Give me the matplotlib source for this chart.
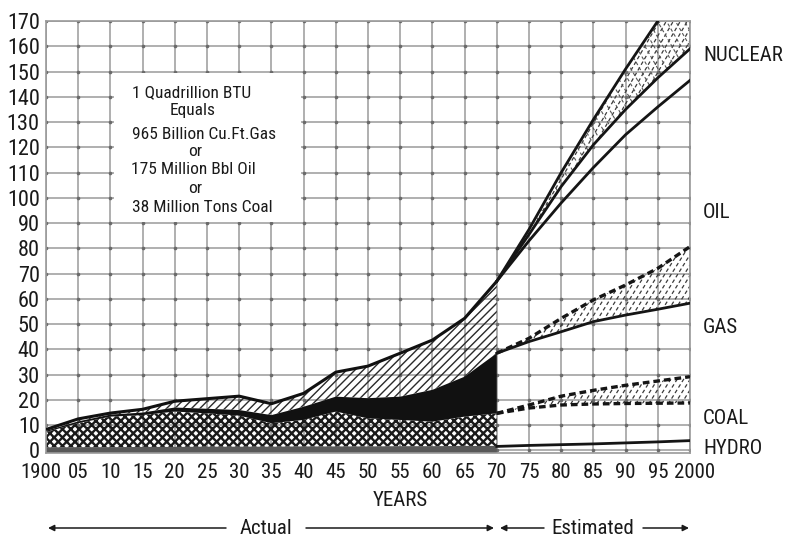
import numpy as np
import matplotlib
matplotlib.use('Agg')
import matplotlib.pyplot as plt
from matplotlib import font_manager as fm
from matplotlib.collections import LineCollection
from matplotlib.patches import Rectangle
from matplotlib.transforms import ScaledTranslation

# ---------------- data (quadrillion BTU, cumulative tops) ----------------
years_act = [1900, 1905, 1910, 1915, 1920, 1925, 1930, 1935, 1940, 1945, 1950, 1955, 1960, 1965, 1970]
hydro_act = [1.2, 1.3, 1.3, 1.4, 1.4, 1.5, 1.5, 1.5, 1.6, 1.6, 1.6, 1.7, 1.7, 1.8, 1.8]
coal_act = [7.3, 10.8, 13.4, 14.0, 15.4, 14.7, 13.8, 10.8, 12.1, 15.4, 12.7, 12.1, 11.4, 13.4, 14.7]
gas_act = [7.8, 11.5, 14.2, 15.0, 17.0, 16.5, 16.0, 14.0, 17.3, 21.3, 20.7, 21.3, 24.0, 29.2, 38.5]
oil_act = [8.3, 12.5, 14.8, 16.3, 19.5, 20.5, 21.5, 18.5, 22.6, 31.0, 33.4, 38.5, 43.7, 52.3, 67.0]

years_est = [1970, 1975, 1980, 1985, 1990, 1995, 2000]
hydro_est = [1.6, 2.0, 2.3, 2.6, 3.0, 3.4, 3.9]
coal_est_low = [14.7, 16.8, 18.0, 18.4, 18.6, 18.7, 18.8]
coal_est_high = [14.7, 18.0, 21.5, 23.8, 25.8, 27.5, 29.2]
gas_est_low = [38.5, 43.1, 47.0, 51.0, 53.6, 55.9, 58.3]
gas_est_high = [38.5, 44.4, 52.3, 59.6, 65.5, 72.1, 80.7]
oil_est_low = [67.0, 83.0, 98.0, 112.0, 125.0, 136.0, 146.5]
oil_est_mid = [67.0, 85.5, 104.5, 121.0, 135.0, 147.5, 159.0]
oil_est_high = [67.0, 87.5, 110.0, 131.0, 151.0, 170.0, 189.0]

x_ticks = list(range(1900, 2001, 5))
x_tick_labels = ['1900', '05', '10', '15', '20', '25', '30', '35', '40', '45',
                 '50', '55', '60', '65', '70', '75', '80', '85', '90', '95', '2000']
y_ticks = list(range(0, 171, 10))

right_labels = ['NUCLEAR', 'OIL', 'GAS', 'COAL', 'HYDRO']
right_label_y = [156.5, 94.0, 48.5, 12.6, 0.8]

note_lines = ['1 Quadrillion BTU', 'Equals', '965 Billion Cu.Ft.Gas', 'or',
              '175 Million Bbl Oil', 'or', '38 Million Tons Coal']

# ---------------- fonts ----------------
def pick(fams):
    for f in fams:
        try:
            fm.findfont(fm.FontProperties(family=f), fallback_to_default=False)
            return f
        except Exception:
            pass
    return 'DejaVu Sans'

FONT = pick(['Liberation Sans Narrow', 'DejaVu Sans Condensed', 'Roboto Condensed', 'Liberation Sans', 'DejaVu Sans'])
plt.rcParams['font.family'] = [FONT, 'DejaVu Sans']
plt.rcParams['hatch.linewidth'] = 1.0

FW, FH = 787, 539
fig = plt.figure(figsize=(FW / 100, FH / 100), dpi=100)
L, R, T, B = 46, 690, 21, 453
ax = fig.add_axes([L / FW, 1 - B / FH, (R - L) / FW, (B - T) / FH])
ax.set_xlim(1900, 2000)
ax.set_ylim(-1, 170)
ppx = (R - L) / 100.0
ppy = (B - T) / 171.0

GRID = '#9a9a9a'
for xt in x_ticks:
    ax.axvline(xt, color=GRID, lw=1.1, zorder=0)
for yt in y_ticks:
    ax.axhline(yt, color=GRID, lw=1.1, zorder=0)
gx, gy = np.meshgrid(x_ticks, y_ticks)
ax.plot(gx.ravel(), gy.ravel(), 'o', ms=2.6, color='#6a6a6a', mec='none', zorder=0.5)
for s in ax.spines.values():
    s.set_color(GRID)
    s.set_linewidth(1.2)

# white box behind the note
ax.add_patch(Rectangle((1910.6, 90.6), 29.0, 58.8, facecolor='white', edgecolor='none', zorder=1.5))

# ---------------- actual stack ----------------
ax.fill_between(years_act, -1, hydro_act, facecolor='#585858', edgecolor='none', lw=0, zorder=2)
with plt.rc_context({'hatch.linewidth': 1.7}):
    coal_fill = ax.fill_between(years_act, hydro_act, coal_act, facecolor='none', edgecolor='#1a1a1a',
                                hatch='xxxx', lw=0, zorder=2)
if hasattr(coal_fill, 'set_hatch_linewidth'):
    coal_fill.set_hatch_linewidth(1.7)
ax.fill_between(years_act, coal_act, gas_act, facecolor='#111111', edgecolor='none', lw=0, zorder=2)
ax.fill_between(years_act, gas_act, oil_act, facecolor='none', edgecolor='#2a2a2a',
                hatch='////', lw=0, zorder=2)
ax.plot(years_act, oil_act, color='#111111', lw=2.2, zorder=3, solid_capstyle='butt')


# ---------------- estimated ----------------
def dashed_hatch(x, lo, hi, angle_deg, spacing_px, color='#3a3a3a', lw=0.9, dash=(3.0, 2.2)):
    fb = ax.fill_between(x, lo, hi, facecolor='none', edgecolor='none', lw=0, zorder=2)
    path = fb.get_paths()[0]
    k = np.tan(np.radians(angle_deg)) * ppx / ppy
    step = spacing_px / ppx
    span = 200.0 / abs(k)
    segs = []
    for x0 in np.arange(min(x) - span - 5, max(x) + span + 5, step):
        segs.append([(x0, -10.0), (x0 + 190.0 / k, 180.0)])
    lc = LineCollection(segs, colors=color, linewidths=lw, linestyles=[(0, dash)], zorder=2)
    ax.add_collection(lc, autolim=False)
    lc.set_clip_path(path, ax.transData)


dashed_hatch(years_est, coal_est_low, coal_est_high, 58, 6.5)
dashed_hatch(years_est, gas_est_low, gas_est_high, 58, 6.5)
dashed_hatch(years_est, oil_est_mid, oil_est_high, 60, 7.0)
dashed_hatch(years_est, oil_est_mid, oil_est_high, -60, 9.0, color='#555555', lw=0.8)

solid_kw = dict(color='#151515', lw=2.0, zorder=3)
dash_kw = dict(color='#151515', lw=2.4, zorder=3, dashes=(2.0, 1.2))
ax.plot(years_est, hydro_est, **solid_kw)
ax.plot(years_est, coal_est_low, **dash_kw)
ax.plot(years_est, coal_est_high, **dash_kw)
ax.plot(years_est, gas_est_low, **solid_kw)
ax.plot(years_est, gas_est_high, **dash_kw)
ax.plot(years_est, oil_est_low, **solid_kw)
ax.plot(years_est, oil_est_mid, **solid_kw)
ax.plot(years_est, oil_est_high, **solid_kw)

# ---------------- ticks & labels ----------------
ax.set_xticks(x_ticks, labels=x_tick_labels)
ax.set_yticks(y_ticks, labels=[str(v) for v in y_ticks])
ax.tick_params(axis='both', length=0, colors='#1a1a1a')
ax.tick_params(axis='y', pad=4.5, labelsize=16)
ax.tick_params(axis='x', pad=7, labelsize=15)
xt_objs = ax.xaxis.get_major_ticks()
xt_objs[0].label1.set_transform(xt_objs[0].label1.get_transform()
                                + ScaledTranslation(-5 / 100, 0, fig.dpi_scale_trans))
xt_objs[-1].label1.set_transform(xt_objs[-1].label1.get_transform()
                                 + ScaledTranslation(5 / 100, 0, fig.dpi_scale_trans))

for lab, yv in zip(right_labels, right_label_y):
    ax.text(2002, yv, lab, ha='left', va='center', fontsize=15, color='#1a1a1a', clip_on=False)

fig.text(400 / FW, 1 - 500 / FH, 'YEARS', ha='center', va='center', fontsize=15, color='#1a1a1a')

note_pos = [(132, 97), (170, 115), (132, 139), (188, 156), (131, 174), (188, 193), (132, 212)]
for txt, (px, py) in zip(note_lines, note_pos):
    fig.text(px / FW, 1 - py / FH, txt, ha='left', va='baseline', fontsize=12.5, color='#1a1a1a')

# Actual / Estimated arrows
ay = FH - 528
fig.text(266 / FW, ay / FH, 'Actual', ha='center', va='center', fontsize=15, color='#1a1a1a')
fig.text(593 / FW, ay / FH, 'Estimated', ha='center', va='center', fontsize=15, color='#1a1a1a')
arrow_kw = dict(arrowstyle='-|>', lw=1.1, color='#1a1a1a', mutation_scale=9, shrinkA=0, shrinkB=0)
for x_from, x_to in [(226, 48), (306, 494), (544, 500), (643, 689)]:
    ax.annotate('', xy=(x_to, ay), xytext=(x_from, ay), xycoords='figure pixels',
                textcoords='figure pixels', arrowprops=arrow_kw, annotation_clip=False)

fig.savefig('out.png', dpi=100)
